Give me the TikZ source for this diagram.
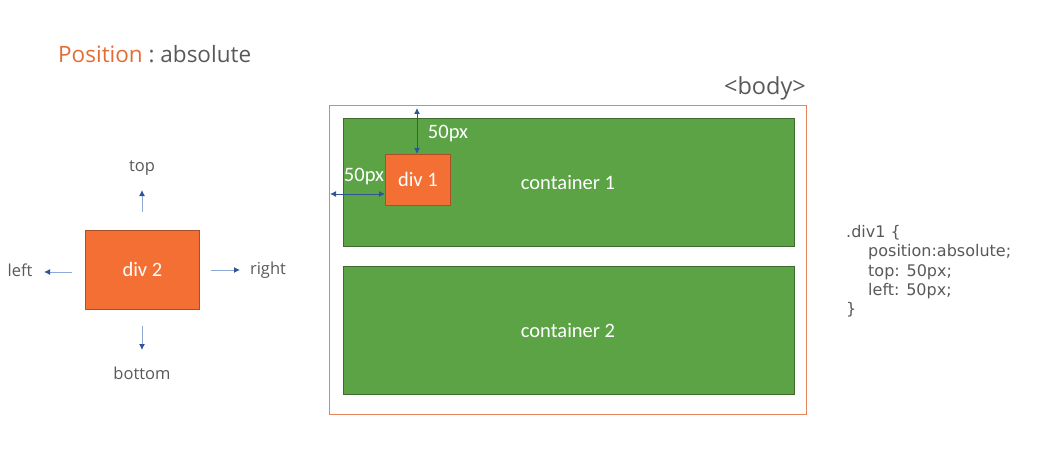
\documentclass[tikz,border=0pt]{standalone}
\usepackage{fontspec}
\setmainfont{Open Sans}
\newfontfamily\boxfont{Carlito}
\newfontfamily\codefont{DejaVu Sans}
\usetikzlibrary{arrows.meta}
\definecolor{orangeT}{HTML}{E46C34}
\definecolor{grayT}{HTML}{595959}
\definecolor{greenF}{HTML}{5CA346}
\definecolor{greenD}{HTML}{3D6B2E}
\definecolor{orangeF}{HTML}{F36F33}
\definecolor{orangeD}{HTML}{A8502A}
\definecolor{bodyL}{HTML}{E4845A}
\definecolor{arrowL}{HTML}{8EA9D6}
\definecolor{arrowD}{HTML}{2F5597}
\tikzset{
  greenbox/.style={draw=greenD, fill=greenF, line width=0.8pt, minimum width=451pt, minimum height=128pt, inner sep=0pt},
  boxtext/.style={text=white, font=\boxfont\fontsize{20.5}{22}\selectfont, inner sep=0pt},
  divbox/.style={draw=orangeD, fill=orangeF, line width=0.8pt, inner sep=0pt, font=\boxfont\fontsize{20.5}{22}\selectfont, text=white},
  lbl/.style={text=grayT, font=\fontsize{16.5}{19}\selectfont, inner sep=0pt},
  dirarrow/.style={draw=arrowL, line width=1pt, -{Latex[length=6pt,width=6pt,color=arrowD]}},
  dimarrow/.style={draw=arrowD, line width=1pt, {Latex[length=6pt,width=6pt]}-{Latex[length=6pt,width=6pt]}},
  code/.style={text=grayT, font=\codefont\fontsize{16}{19.5}\selectfont, inner sep=0pt, anchor=west}
}
\begin{document}
\begin{tikzpicture}[x=1pt,y=-1pt]
\useasboundingbox (0,0) rectangle (1040,468);
% title
\node[anchor=base west, inner sep=0pt, font=\fontsize{22.5}{25}\selectfont] (title) at (58,63) {\textcolor{orangeT}{Position}\textcolor{grayT}{\ :\ absolute}};
% body
\node[draw=bodyL, line width=1pt, minimum width=477pt, minimum height=309pt, inner sep=0pt, anchor=north west] (body) at (329,105) {};
\node[anchor=base east, inner sep=0pt, text=grayT, font=\fontsize{23.5}{26}\selectfont] (bodylbl) at (806,95) {<body>};
% containers
\node[greenbox, anchor=north west] (c1) at (343,118) {};
\node[boxtext] (c1t) at (568,183) {container 1};
\node[greenbox, anchor=north west] (c2) at (343,266) {};
\node[boxtext] (c2t) at (568,331) {container 2};
% div 1
\node[divbox, minimum width=65pt, minimum height=51pt, anchor=north west] (d1) at (385,154) {div 1};
\coordinate (vt) at (417,108);
\coordinate (hl) at (330,194);
\draw[dimarrow] (vt) -- (vt |- d1.north);
\draw[dimarrow] (hl) -- (hl -| d1.west);
\node[boxtext] (v50) at (448,134) {50px};
\node[boxtext] (h50) at (364,176) {50px};
% div 2
\node[divbox, minimum width=114pt, minimum height=79pt, anchor=north west] (d2) at (85,230) {div 2};
\node[lbl] (top) at (142,168) {top};
\node[lbl] (left) at (20,270) {left};
\node[lbl] (right) at (268,270) {right};
\node[lbl] (bottom) at (142,373) {bottom};
\coordinate (t0) at (142,212); \coordinate (t1) at (142,190);
\coordinate (l0) at (72,272); \coordinate (l1) at (44,272);
\coordinate (r0) at (211,270); \coordinate (r1) at (240,270);
\coordinate (b0) at (142,326); \coordinate (b1) at (142,350);
\draw[dirarrow] (t0) -- (t1);
\draw[dirarrow] (l0) -- (l1);
\draw[dirarrow] (r0) -- (r1);
\draw[dirarrow] (b0) -- (b1);
% code
\node[code] (cl1) at (846,233) {.div1 \{};
\node[code] (cl2) at (868,252) {position:absolute;};
\node[code] (cl3) at (868,272) {top: 50px;};
\node[code] (cl4) at (868,291) {left: 50px;};
\node[code] (cl5) at (846,310) {\}};
\end{tikzpicture}
\end{document}
